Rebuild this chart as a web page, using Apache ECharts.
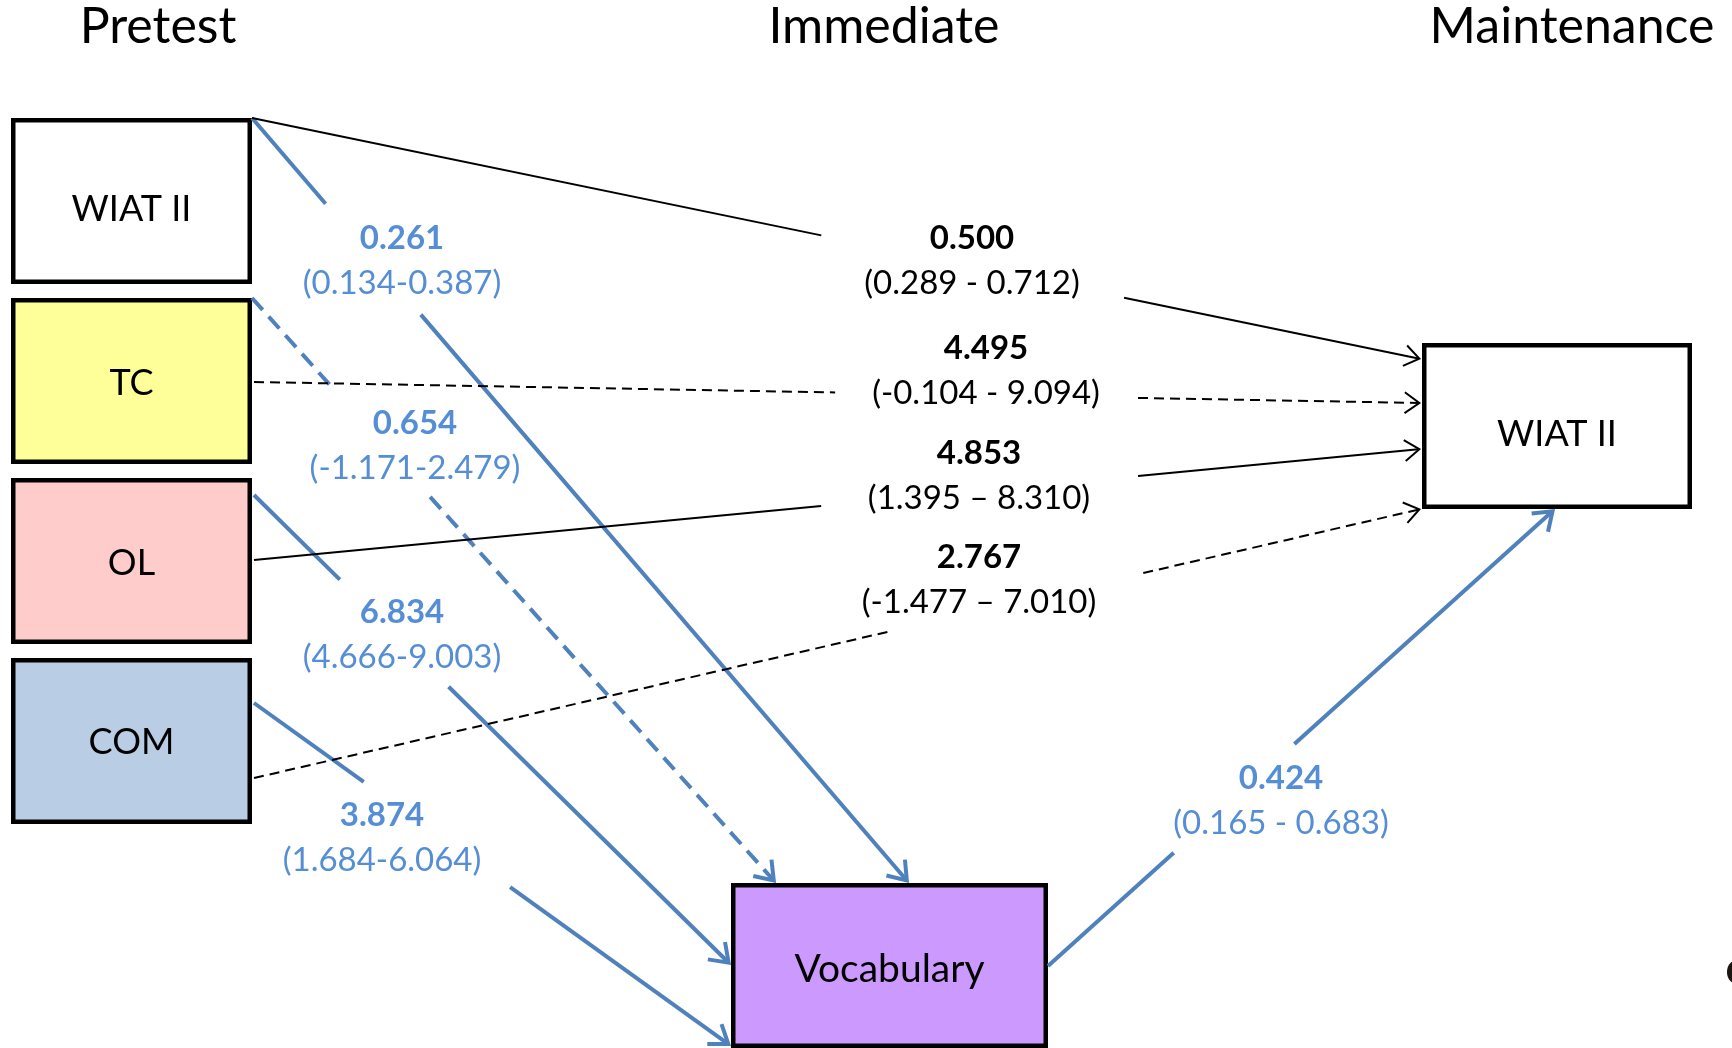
<!DOCTYPE html>
<html>
<head>
<meta charset="utf-8">
<script src="https://cdn.jsdelivr.net/npm/echarts@6/dist/echarts.min.js"></script>
<style>
html, body { margin: 0; padding: 0; background: #fff; }
#main { width: 1732px; height: 1048px; }
</style>
</head>
<body>
<div id="main"></div>
<script>
// values of the path model
var stageTitles = ['Pretest', 'Immediate', 'Maintenance'];
var boxNames = ['WIAT II', 'TC', 'OL', 'COM', 'Vocabulary', 'WIAT II'];
var pathFrom = [0, 1, 2, 3, 4, 0, 1, 2, 3];
var pathTo = [4, 4, 4, 4, 5, 5, 5, 5, 5];
var estimates = ['0.261', '0.654', '6.834', '3.874', '0.424', '0.500', '4.495', '4.853', '2.767'];
var intervals = ['(0.134-0.387)', '(-1.171-2.479)', '(4.666-9.003)', '(1.684-6.064)', '(0.165 - 0.683)',
                 '(0.289 - 0.712)', '(-0.104 - 9.094)', '(1.395 \u2013 8.310)', '(-1.477 \u2013 7.010)'];
var significant = [true, false, true, true, true, true, false, true, false];

// layout of the diagram (axis units = reference pixels)
var titleX = [158, 884, 1572];
var titleY = 27;
var boxLayout = [
    [11, 118, 252, 284],
    [11, 298, 252, 464],
    [11, 478, 252, 644],
    [11, 658, 252, 824],
    [731, 883, 1048, 1048],
    [1422, 343, 1692, 509]
];
var boxTextShift = [8, 2, 2, 1, 4, 8];
var boxFill = ['#ffffff', '#ffff99', '#ffcccc', '#b9cde5', '#cc99ff', '#ffffff'];
// start, end, gap left for the label (fractions along the line), label centre
var pathGeom = [
    { a: [252, 118], b: [909, 883], gap: [0.112, 0.257], label: [402, 238] },
    { a: [252, 298], b: [776, 883], gap: [0.153, 0.34], label: [415, 423] },
    { a: [254, 495], b: [731, 965], gap: [0.18, 0.408], label: [402, 612] },
    { a: [254, 703], b: [731, 1046], gap: [0.23, 0.537], label: [382, 815] },
    { a: [1048, 966], b: [1555, 509], gap: [0.248, 0.486], label: [1281, 778] },
    { a: [252, 118], b: [1421, 359], gap: [0.487, 0.746], label: [972, 238] },
    { a: [254, 382], b: [1421, 403], gap: [0.498, 0.7575], label: [986, 348] },
    { a: [254, 560], b: [1421, 449], gap: [0.486, 0.7575], label: [979, 453] },
    { a: [254, 778], b: [1421, 509], gap: [0.546, 0.762], label: [979, 557] }
];
// stray mark cut off at the right edge of the slide
var strayMark = [1735, 972];

var FONT = 'Lato, "Open Sans", sans-serif';
var BLUE_LINE = '#4f81bd';
var BLUE_TEXT = '#558ed5';

var chartDom = document.getElementById('main');
var myChart = echarts.init(chartDom);

function renderTitle(params, api) {
    var p = api.coord([titleX[params.dataIndex], titleY]);
    return {
        type: 'text',
        style: { text: stageTitles[params.dataIndex], x: p[0], y: p[1], align: 'center', verticalAlign: 'middle',
                 fill: '#000', font: '50px ' + FONT }
    };
}

function renderBox(params, api) {
    var i = params.dataIndex;
    var b = boxLayout[i];
    var p0 = api.coord([b[0], b[1]]);
    var p1 = api.coord([b[2], b[3]]);
    var lw = 4.5;
    return {
        type: 'group',
        children: [
            {
                type: 'rect',
                shape: { x: p0[0] + lw / 2, y: p0[1] + lw / 2, width: p1[0] - p0[0] - lw, height: p1[1] - p0[1] - lw },
                style: { fill: boxFill[i], stroke: '#000', lineWidth: lw }
            },
            {
                type: 'text',
                style: { text: boxNames[i], x: (p0[0] + p1[0]) / 2, y: (p0[1] + p1[1]) / 2 + boxTextShift[i],
                         align: 'center', verticalAlign: 'middle', fill: '#000',
                         font: (i === 4 ? '39px ' : '36px ') + FONT }
            }
        ]
    };
}

function renderPath(params, api) {
    var i = params.dataIndex;
    var g = pathGeom[i];
    var a = api.coord(g.a);
    var b = api.coord(g.b);
    var blue = pathFrom[i] === 4 || pathTo[i] === 4;
    var color = blue ? BLUE_LINE : '#000';
    var lw = blue ? 4 : 2;
    var dash = significant[i] ? null : (blue ? [16, 9] : [10, 6]);
    var lerp = function (t) { return [a[0] + (b[0] - a[0]) * t, a[1] + (b[1] - a[1]) * t]; };
    var g0 = lerp(g.gap[0]);
    var g1 = lerp(g.gap[1]);
    var ang = Math.atan2(b[1] - a[1], b[0] - a[0]);
    var len = Math.sqrt((b[0] - a[0]) * (b[0] - a[0]) + (b[1] - a[1]) * (b[1] - a[1]));
    var back = lw / 1.2;
    var tip = lerp(1 - back / len);
    var L = blue ? 21 : 18;
    var h = 0.62;
    var w1 = [tip[0] - L * Math.cos(ang - h), tip[1] - L * Math.sin(ang - h)];
    var w2 = [tip[0] - L * Math.cos(ang + h), tip[1] - L * Math.sin(ang + h)];
    var end = lerp(1 - (back + lw / 2) / len);
    var lab = api.coord(g.label);
    var textColor = blue ? BLUE_TEXT : '#000';
    return {
        type: 'group',
        children: [
            { type: 'line', shape: { x1: a[0], y1: a[1], x2: g0[0], y2: g0[1] },
              style: { stroke: color, lineWidth: lw, lineDash: dash } },
            { type: 'line', shape: { x1: g1[0], y1: g1[1], x2: end[0], y2: end[1] },
              style: { stroke: color, lineWidth: lw, lineDash: dash } },
            { type: 'polyline', shape: { points: [w1, tip, w2] },
              style: { stroke: color, lineWidth: lw, fill: null } },
            { type: 'text', style: { text: estimates[i], x: lab[0], y: lab[1], align: 'center', verticalAlign: 'middle',
                                     fill: textColor, font: 'bold 33px ' + FONT } },
            { type: 'text', style: { text: intervals[i], x: lab[0], y: lab[1] + 45, align: 'center', verticalAlign: 'middle',
                                     fill: textColor, font: '33px ' + FONT } }
        ]
    };
}

function renderStray(params, api) {
    var p = api.coord(strayMark);
    return { type: 'ellipse', shape: { cx: p[0], cy: p[1], rx: 8, ry: 11 }, style: { fill: '#1c1410' } };
}

var option = {
    animation: false,
    backgroundColor: '#fff',
    grid: { left: 0, right: 0, top: 0, bottom: 0 },
    xAxis: { type: 'value', min: 0, max: 1732, show: false },
    yAxis: { type: 'value', min: 0, max: 1048, inverse: true, show: false },
    series: [
        {
            type: 'custom', name: 'titles', clip: false, z: 1,
            data: titleX.map(function (x) { return [x, titleY]; }),
            renderItem: renderTitle
        },
        {
            type: 'custom', name: 'boxes', clip: false, z: 2,
            data: boxLayout.map(function (b) { return [(b[0] + b[2]) / 2, (b[1] + b[3]) / 2]; }),
            renderItem: renderBox
        },
        {
            type: 'custom', name: 'paths', clip: false, z: 3,
            data: pathGeom.map(function (g) { return g.label; }),
            renderItem: renderPath
        },
        {
            type: 'custom', name: 'stray', clip: true, z: 1,
            data: [strayMark],
            renderItem: renderStray
        }
    ]
};
option && myChart.setOption(option);
</script>
</body>
</html>
